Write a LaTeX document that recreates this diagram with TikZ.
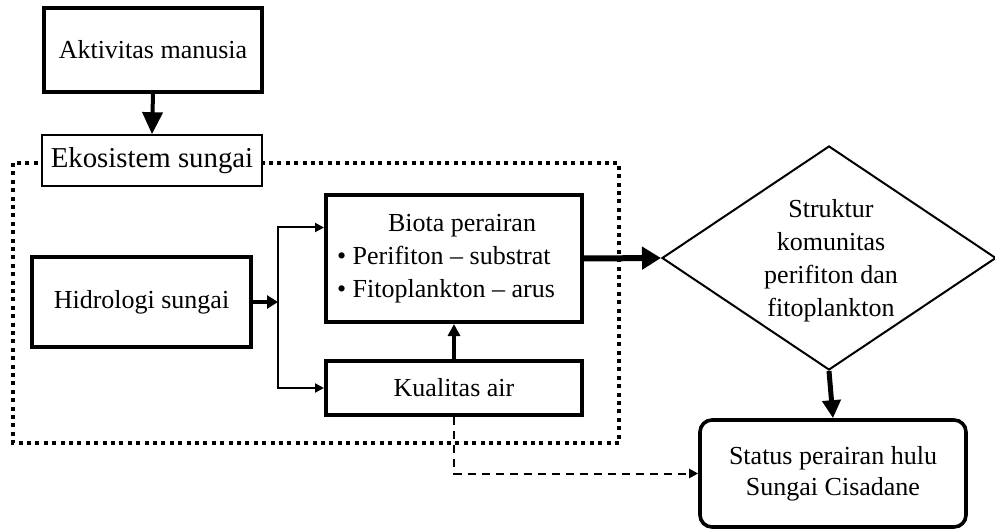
\documentclass[tikz,border=0pt]{standalone}
\usepackage{fontspec}
\setmainfont{Liberation Serif}
\usetikzlibrary{arrows.meta,shapes.geometric,calc}
\begin{document}
\begin{tikzpicture}[x=0.5pt,y=-0.5pt,
  txt/.style={font=\fontsize{13}{16}\selectfont},
  box/.style={txt,draw,line width=2pt,rectangle,inner sep=0pt,align=center},
  thinbox/.style={draw,line width=0.8pt,rectangle,inner sep=0pt,fill=white,font=\fontsize{14.4}{17}\selectfont},
  thinarrow/.style={line width=1pt,-{Triangle[length=4.5pt,width=4.5pt]}},
  dashedarrow/.style={line width=1pt,dash pattern=on 4pt off 3pt,-{Triangle[length=4.5pt,width=4.5pt]}}]
\useasboundingbox[fill=white] (0,0) rectangle (995,529);
% dotted ecosystem frame
\draw[line width=1.6pt,dash pattern=on 2pt off 2.2pt] (13,163) rectangle (619,443);
% nodes
\node[box,minimum width=109pt,minimum height=42pt] (akt) at (153,50) {Aktivitas manusia};
\node[thinbox,minimum width=110pt,minimum height=25.5pt] (eko) at (152,160.5) {Ekosistem sungai};
\node[box,minimum width=109.5pt,minimum height=45pt] (hid) at (141.5,302) {Hidrologi sungai};
\node[box,minimum width=128pt,minimum height=63.5pt] (bio) at (454,258.5)
  {\begin{tabular}{@{}l@{\hspace{8pt}}}\multicolumn{1}{@{}c@{}}{\hspace*{8pt}Biota perairan}\\[0.5pt]
   \textbullet{} Perifiton -- substrat\\[0.5pt]
   \textbullet{} Fitoplankton -- arus\end{tabular}};
\node[box,minimum width=128pt,minimum height=27pt] (kua) at (454,388) {Kualitas air};
\node[draw,diamond,line width=1pt,minimum width=167pt,minimum height=112pt,inner sep=0pt] (dia) at (829,258) {};
\node[align=center,font=\fontsize{13}{16.5}\selectfont] (diatext) at (831,261)
  {Struktur\\komunitas\\perifiton dan\\fitoplankton};
\node[box,line width=1.8pt,rounded corners=6pt,minimum width=133pt,minimum height=53.5pt,
  font=\fontsize{13}{15.5}\selectfont] (sta) at (833,473.5)
  {Status perairan hulu\\Sungai Cisadane};
\coordinate (j) at (278,302);
% connectors
\draw[line width=2pt,-{Triangle[length=11pt,width=10pt]}] (akt.south) -- (eko.north);
\draw[line width=2pt,-{Triangle[length=5.5pt,width=6.5pt]}] (hid.east) -- (j);
\draw[thinarrow] (j) |- ([yshift=15.5pt]bio.west);
\draw[thinarrow] (j) |- (kua.west);
\draw[line width=1.6pt,-{Triangle[length=6pt,width=6pt]}] (kua.north) -- (bio.south);
\draw[line width=3pt,-{Triangle[length=9.5pt,width=11pt]}] (bio.east) -- (dia.west);
\draw[line width=2.5pt,-{Triangle[length=9pt,width=9pt]}] (dia.south) -- (sta.north);
\draw[dashedarrow] (kua.south) |- (sta.west);
\end{tikzpicture}
\end{document}
